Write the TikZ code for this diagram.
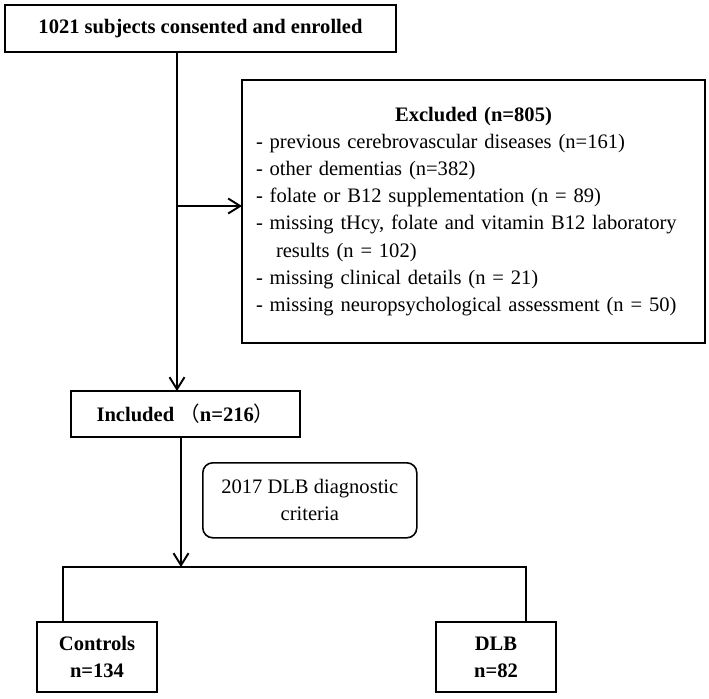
\documentclass[tikz,border=0pt]{standalone}
\usepackage{fontspec}
\setmainfont{Liberation Serif}
\newfontfamily\cjk{Noto Sans CJK SC}
\usetikzlibrary{arrows.meta, positioning, calc}

\begin{document}
\begin{tikzpicture}[
    >={Straight Barb[length=2.4mm, width=3mm]},
    line width=1.1pt,
    stage/.style={draw, inner sep=0pt, outer sep=0pt, align=center, font=\fontsize{11.7}{15.4}\selectfont\bfseries},
    excl/.style={draw, inner sep=0pt, outer sep=0pt, align=left, font=\fontsize{11.7}{15.4}\selectfont},
    criteria/.style={draw, rounded corners=0.2cm, line width=0.9pt, inner sep=0pt, align=center, font=\fontsize{11.7}{15.4}\selectfont},
    group/.style={stage, minimum width=2.4cm, minimum height=1.4cm},
    ]

    \useasboundingbox (0,0) rectangle (14.18,-13.96);

    \node (Enrol) [stage, minimum width=7.82cm, minimum height=0.94cm, anchor=north west] at (0.10,-0.10) {1021 subjects consented and enrolled};

    \node (Excl) [excl, below right=0.56cm and 4.74cm of Enrol.south west, minimum width=9.26cm, minimum height=5.26cm, text width=8.70cm] {\makebox[\hsize]{\textbf{Excluded (n=805)}}\\
        - previous cerebrovascular diseases (n=161)\\
        - other dementias (n=382)\\
        - folate or B12 supplementation (n = 89)\\
        - missing tHcy, folate and vitamin B12 laboratory\\
        \hspace*{0.4cm}results (n = 102)\\
        - missing clinical details (n = 21)\\
        - missing neuropsychological assessment (n = 50)};

    \node (Incl) [stage, below right=6.78cm and 1.32cm of Enrol.south west, minimum width=4.58cm, minimum height=0.92cm] {Included {\cjk\mdseries （}n=216{\cjk\mdseries ）}};

    \node (Crit) [criteria, below right=0.50cm and 2.62cm of Incl.south west, minimum width=4.28cm, minimum height=1.5cm] {2017 DLB diagnostic \\ criteria};

    % Groups
    \node (Ctrl) [group, below right=3.70cm and -0.68cm of Incl.south west] {Controls \\ n=134};
    \node (DLB) [group, right=5.58cm of Ctrl] {DLB \\ n=82};

    \coordinate (Trunk) at (3.54,0);
    \coordinate (Split) at (3.62,-11.34);

    \draw[->] (Enrol.south -| Trunk) -- (Incl.north -| Trunk);
    \draw[->] ([yshift=0.11cm]Excl.west -| Trunk) -- ([yshift=0.11cm]Excl.west);
    \draw[->] (Incl.south -| Split) -- (Split);
    \draw ([xshift=-0.68cm]Ctrl.north) |- (Split) -| ([xshift=0.60cm]DLB.north);
\end{tikzpicture}
\end{document}
